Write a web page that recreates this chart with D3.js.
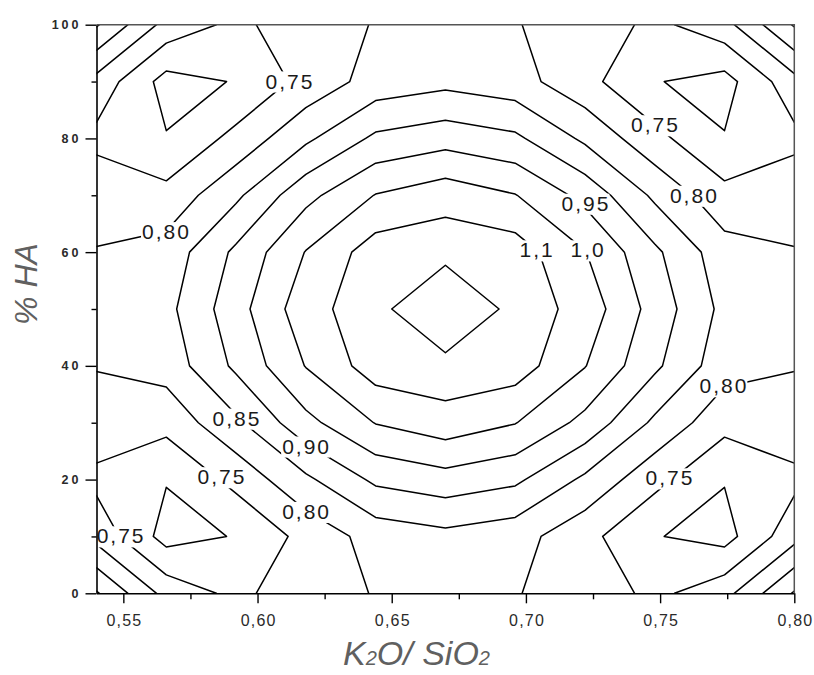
<!DOCTYPE html>
<html>
<head>
<meta charset="utf-8">
<script src="https://cdn.jsdelivr.net/npm/d3@7"></script>
<style>
  html, body { margin: 0; padding: 0; background: #fff; }
  svg { display: block; }
</style>
</head>
<body>
<svg id="chart" width="814" height="675"></svg>
<script>
// Grid columns: K2O/SiO2 ratio
const ratioGrid = [0.54, 0.566, 0.592, 0.618, 0.644, 0.67, 0.696, 0.722, 0.748, 0.774, 0.80];
// Grid rows: % HA
const haGrid = [0, 10, 20, 30, 40, 50, 60, 70, 80, 90, 100];

// Measured response, one array per % HA row, one value per ratio column
const ha0   = [0.905, 0.783, 0.737, 0.782, 0.802, 0.82, 0.802, 0.782, 0.737, 0.783, 0.905];
const ha10  = [0.783, 0.681, 0.703, 0.766, 0.82, 0.836, 0.82, 0.766, 0.703, 0.681, 0.783];
const ha20  = [0.737, 0.703, 0.765, 0.84, 0.91, 0.93, 0.91, 0.84, 0.765, 0.703, 0.737];
const ha30  = [0.782, 0.766, 0.84, 0.935, 1.002, 1.03, 1.002, 0.935, 0.84, 0.766, 0.782];
const ha40  = [0.802, 0.82, 0.91, 1.002, 1.075, 1.082, 1.075, 1.002, 0.91, 0.82, 0.802];
const ha50  = [0.82, 0.836, 0.93, 1.03, 1.082, 1.16, 1.082, 1.03, 0.93, 0.836, 0.82];
const ha60  = [0.802, 0.82, 0.91, 1.002, 1.075, 1.082, 1.075, 1.002, 0.91, 0.82, 0.802];
const ha70  = [0.782, 0.766, 0.84, 0.935, 1.002, 1.03, 1.002, 0.935, 0.84, 0.766, 0.782];
const ha80  = [0.737, 0.703, 0.765, 0.84, 0.91, 0.93, 0.91, 0.84, 0.765, 0.703, 0.737];
const ha90  = [0.783, 0.681, 0.703, 0.766, 0.82, 0.836, 0.82, 0.766, 0.703, 0.681, 0.783];
const ha100 = [0.905, 0.783, 0.737, 0.782, 0.802, 0.82, 0.802, 0.782, 0.737, 0.783, 0.905];
const zRows = [ha0, ha10, ha20, ha30, ha40, ha50, ha60, ha70, ha80, ha90, ha100];

// Contour levels (step 0.05)
const levels = [0.70, 0.75, 0.80, 0.85, 0.90, 0.95, 1.00, 1.05, 1.10];

// Axis ticks
const xTicks = [0.55, 0.60, 0.65, 0.70, 0.75, 0.80];
const xMinorTicks = [0.575, 0.625, 0.675, 0.725, 0.775];
const yTicks = [0, 20, 40, 60, 80, 100];
const yMinorTicks = [10, 30, 50, 70, 90];

// Where each level label sits (ratio, % HA)
const labelSpots = [
  { level: 0.75, at: [0.6117, 90.1] },
  { level: 0.80, at: [0.5657, 63.6] },
  { level: 0.75, at: [0.7479, 82.4] },
  { level: 0.80, at: [0.7624, 70.0] },
  { level: 0.95, at: [0.7220, 68.6] },
  { level: 1.05, at: [0.7038, 60.4] },
  { level: 1.00, at: [0.7228, 60.4] },
  { level: 0.80, at: [0.7734, 36.5] },
  { level: 0.75, at: [0.7533, 20.3] },
  { level: 0.85, at: [0.5920, 30.8] },
  { level: 0.90, at: [0.6179, 25.9] },
  { level: 0.75, at: [0.5864, 20.5] },
  { level: 0.80, at: [0.6179, 14.4] },
  { level: 0.75, at: [0.5488, 10.1] }
];

const FONT = "'Liberation Sans', Arial, Helvetica, sans-serif";
const plot = { left: 96.5, right: 794.3, top: 24.7, bottom: 593.3 };

const svg = d3.select("#chart");

const x = d3.scaleLinear().domain([0.54, 0.80]).range([plot.left, plot.right]);
const y = d3.scaleLinear().domain([0, 100]).range([plot.bottom, plot.top]);

// clip region for the contour lines
svg.append("defs").append("clipPath").attr("id", "plotClip")
  .append("rect")
  .attr("x", plot.left).attr("y", plot.top)
  .attr("width", plot.right - plot.left).attr("height", plot.bottom - plot.top);

// ---- contours ----
const n = ratioGrid.length, m = haGrid.length;
const values = zRows.flat();
const contourSet = d3.contours().size([n, m]).thresholds(levels)(values);

const colToRatio = d3.scaleLinear().domain([0, n - 1]).range([ratioGrid[0], ratioGrid[n - 1]]);
const rowToHa = d3.scaleLinear().domain([0, m - 1]).range([haGrid[0], haGrid[m - 1]]);

const gridProjection = d3.geoTransform({
  point(cx, cy) {
    this.stream.point(x(colToRatio(cx - 0.5)), y(rowToHa(cy - 0.5)));
  }
});
const path = d3.geoPath(gridProjection);

svg.append("g")
  .attr("clip-path", "url(#plotClip)")
  .selectAll("path")
  .data(contourSet)
  .join("path")
  .attr("d", path)
  .attr("fill", "none")
  .attr("stroke", "#000")
  .attr("stroke-width", 1.5)
  .attr("stroke-linejoin", "round");

// ---- level labels: two significant digits, decimal comma ----
const fmtLevel = v => d3.format(".2r")(v).replace(".", ",");
const labelSize = 21;
const labelG = svg.append("g");
labelSpots.forEach(s => {
  const cx = x(s.at[0]), cy = y(s.at[1]);
  const g = labelG.append("g");
  const rect = g.append("rect").attr("fill", "#fff");
  const t = g.append("text")
    .attr("x", cx + 1)
    .attr("y", cy + labelSize * 0.36)
    .attr("text-anchor", "middle")
    .attr("font-family", FONT)
    .attr("font-size", labelSize)
    .attr("letter-spacing", "2px")
    .attr("fill", "#1a1a1a")
    .text(fmtLevel(s.level));
  const bb = t.node().getBBox();
  const capTop = cy - labelSize * 0.36 - 2;
  rect.attr("x", bb.x - 1).attr("width", bb.width)
      .attr("y", capTop).attr("height", labelSize * 0.72 + 6);
});

// ---- axes ----
const fmtX = v => d3.format(".2f")(v).replace(".", ",");

const xAxis = svg.append("g")
  .attr("transform", `translate(0,${plot.bottom})`)
  .call(d3.axisBottom(x).tickValues(xTicks).tickSize(10).tickSizeOuter(0).tickPadding(11).tickFormat(fmtX));
xAxis.select(".domain").attr("stroke", "#000").attr("stroke-width", 1.6);
xAxis.selectAll(".tick line").attr("stroke", "#000").attr("stroke-width", 1.4);
xAxis.selectAll(".tick text")
  .attr("font-family", FONT).attr("font-size", 16)
  .attr("letter-spacing", "1.2px").attr("dx", "0.6px")
  .attr("fill", "#2a2a2a");

const xMinor = svg.append("g")
  .attr("transform", `translate(0,${plot.bottom})`)
  .call(d3.axisBottom(x).tickValues(xMinorTicks).tickSize(6).tickFormat(""));
xMinor.select(".domain").remove();
xMinor.selectAll(".tick line").attr("stroke", "#000").attr("stroke-width", 1.4);

const yAxis = svg.append("g")
  .attr("transform", `translate(${plot.left},0)`)
  .call(d3.axisLeft(y).tickValues(yTicks).tickSize(11).tickSizeOuter(0).tickPadding(4).tickFormat(d3.format("d")));
yAxis.select(".domain").attr("stroke", "#000").attr("stroke-width", 1.6);
yAxis.selectAll(".tick line").attr("stroke", "#000").attr("stroke-width", 1.4);
yAxis.selectAll(".tick text")
  .attr("font-family", FONT).attr("font-size", 12.5).attr("font-weight", "bold")
  .attr("letter-spacing", "3px")
  .attr("fill", "#2a2a2a");

const yMinor = svg.append("g")
  .attr("transform", `translate(${plot.left},0)`)
  .call(d3.axisLeft(y).tickValues(yMinorTicks).tickSize(5).tickFormat(""));
yMinor.select(".domain").remove();
yMinor.selectAll(".tick line").attr("stroke", "#000").attr("stroke-width", 1.4);

// top and right frame
svg.append("path")
  .attr("d", d3.line()([[plot.left, plot.top], [plot.right, plot.top], [plot.right, plot.bottom]]))
  .attr("fill", "none")
  .attr("stroke", "#555")
  .attr("stroke-width", 1.5);

// ---- axis titles ----
const xTitle = svg.append("text")
  .attr("x", 343).attr("y", 665)
  .attr("font-family", FONT).attr("font-size", 34).attr("font-style", "italic")
  .attr("fill", "#606060");
xTitle.append("tspan").text("K");
xTitle.append("tspan").attr("font-size", 20).text("2");
xTitle.append("tspan").text("O/ SiO");
xTitle.append("tspan").attr("font-size", 20).text("2");

svg.append("text")
  .attr("transform", "translate(37,284) rotate(-90)")
  .attr("text-anchor", "middle")
  .attr("font-family", FONT).attr("font-size", 32).attr("font-style", "italic")
  .attr("fill", "#606060")
  .text("% HA");
</script>
</body>
</html>
